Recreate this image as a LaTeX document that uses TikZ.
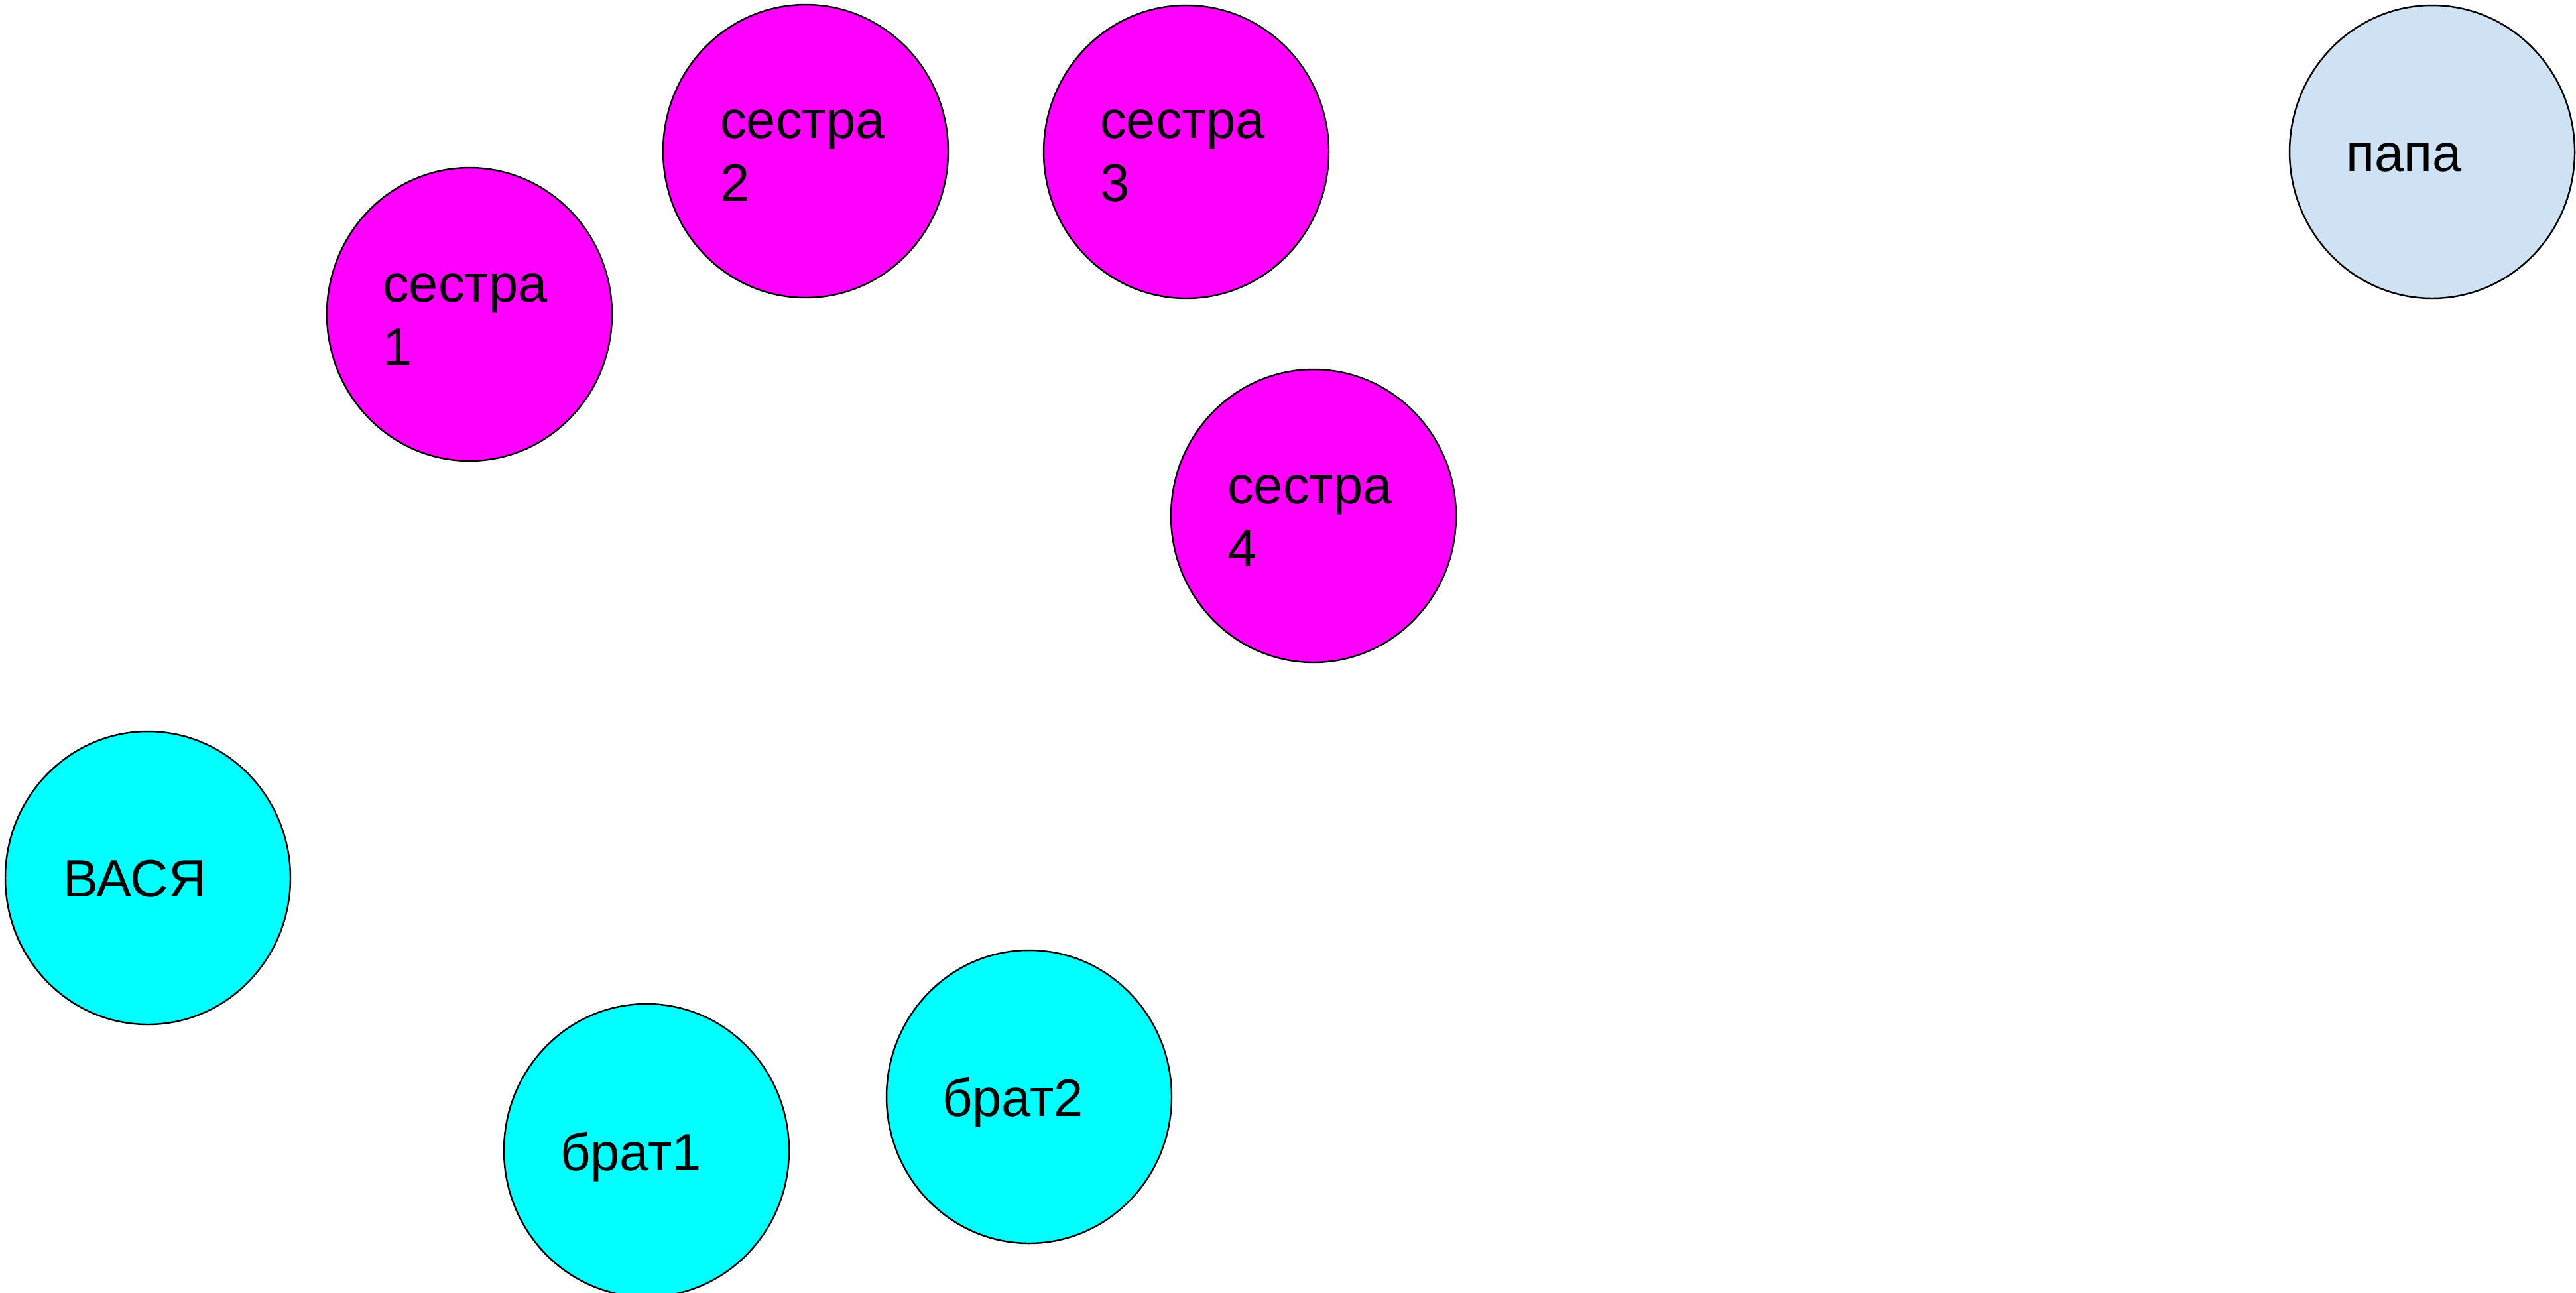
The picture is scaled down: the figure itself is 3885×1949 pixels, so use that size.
\documentclass[tikz,border=0pt]{standalone}
\usepackage{fontspec}
\setmainfont{Liberation Sans}
\usetikzlibrary{shapes.geometric}

\definecolor{sistercol}{RGB}{255,0,255}
\definecolor{brothercol}{RGB}{0,255,255}
\definecolor{papacol}{RGB}{207,226,243}

\begin{document}
\begin{tikzpicture}[
                x=0.1mm,y=-0.1mm,
                line width=0.7pt,
                blob/.style={draw,ellipse,inner sep=0pt,minimum width=43mm,minimum height=44.2mm},
                lbl/.style={anchor=base west,inner sep=0pt,font=\fontsize{22.6pt}{27pt}\selectfont},
                lbltwo/.style={lbl,anchor=west,align=left}] %

\useasboundingbox (0,0) rectangle (3885,1949);
\clip (0,0) rectangle (3885,1949);

% sisters


                    % 1
                    \node[blob,fill=sistercol] (S1) at (708,474) {};
                    \node[lbltwo] (S1T) at (576,482) {сестра\\1};

                    % 2
                    \node[blob,fill=sistercol] (S2) at (1215,228) {};
                    \node[lbltwo] (S2T) at (1085,235) {сестра\\2};

                    % 3
                    \node[blob,fill=sistercol] (S3) at (1789,229) {};
                    \node[lbltwo] (S3T) at (1658,235) {сестра\\3};

                    % 4
                    \node[blob,fill=sistercol] (S4) at (1981,778) {};
                    \node[lbltwo] (S4T) at (1850,786) {сестра\\4};


% papa
                    \node[blob,fill=papacol] (PAPA) at (3668,229) {};
                    \node[lbl] (PAPAT) at (3537,258) {папа};


% vasya and brothers
                    \node[blob,fill=brothercol] (VASYA) at (223,1324) {};
                    \node[lbl] (VASYAT) at (94,1352) {ВАСЯ};

                    % 1
                    \node[blob,fill=brothercol] (B1) at (975,1735) {};
                    \node[lbl] (B1T) at (844,1765) {брат1};

                    % 2
                    \node[blob,fill=brothercol] (B2) at (1552,1654) {};
                    \node[lbl] (B2T) at (1420,1683) {брат2};


%%%%%%%%%%%%%%%%%%%%%%%%%%%%%%%%%%%%%%%%%%%%%%%%%%%%%%%%%%%%%%%%%%%%%%%%%%%%%%%%%%%%


\end{tikzpicture}
\end{document}
